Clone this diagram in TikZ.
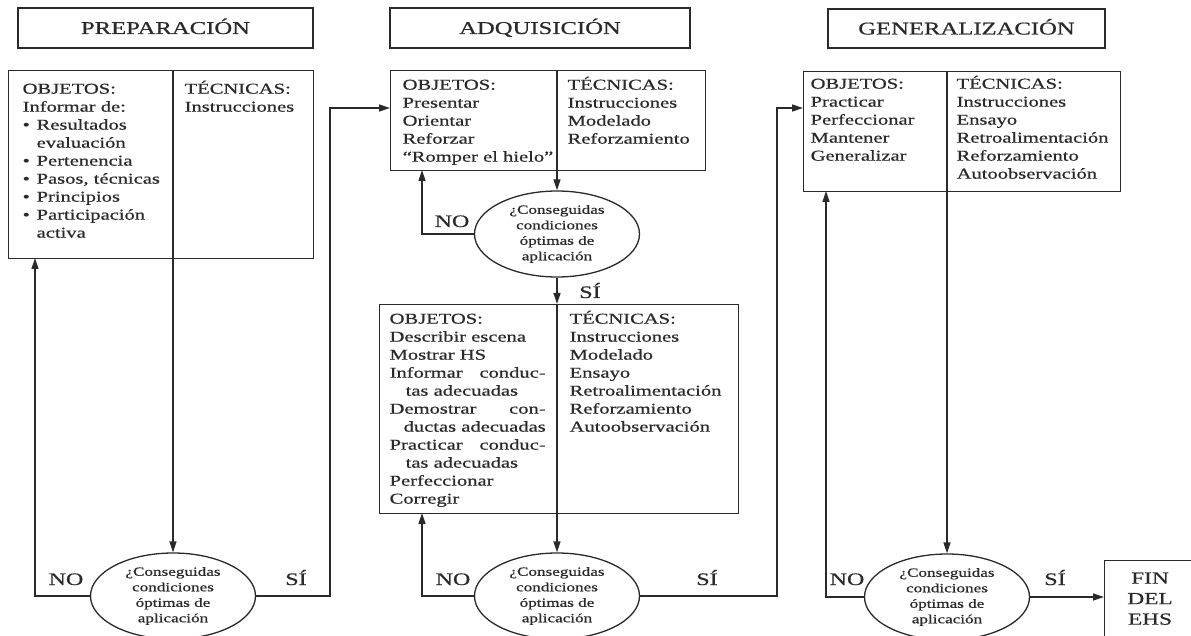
\documentclass[tikz,border=0pt]{standalone}
\usepackage{fontspec}
\setmainfont{Liberation Serif}[FakeStretch=1.37,FakeBold=0.7]
\usetikzlibrary{arrows.meta,shapes.geometric}
\definecolor{ink}{HTML}{2A2A2A}
\newcommand\firststrut{\rule{0pt}{14pt}}
\newcommand\bul{\makebox[14pt][l]{•}}
\newcommand\hang{\hspace*{14pt}}
\begin{document}
\begin{tikzpicture}[x=1pt,y=-1pt,line width=1.3pt,color=ink,
  hdr/.style={draw,rectangle,inner sep=0pt,font=\fontsize{18}{20}\selectfont,text height=12pt,text depth=0pt},
  box/.style={draw,rectangle,anchor=north west,inner sep=0pt},
  col/.style={anchor=north west,inner sep=0pt,align=left,font=\fontsize{15}{18}\selectfont},
  ell/.style={draw,ellipse,inner sep=0pt,minimum width=165pt,minimum height=86pt,fill=white},
  etx/.style={align=center,inner sep=0pt,font=\fontsize{12.5}{15.5}\selectfont},
  lab/.style={anchor=base,inner sep=0pt,font=\fontsize{17.5}{20}\selectfont},
  arr/.style={-{Triangle[length=11pt,width=7pt]}}]
\useasboundingbox (0,0) rectangle (1191,636);

% headers
\node[hdr,minimum width=295pt,minimum height=40pt] (hPrep) at (165.5,28) {PREPARACIÓN};
\node[hdr,minimum width=300pt,minimum height=40pt] (hAdq) at (540,28) {ADQUISICIÓN};
\node[hdr,minimum width=277pt,minimum height=39pt] (hGen) at (966.5,28.5) {GENERALIZACIÓN};

% boxes
\node[box,minimum width=305pt,minimum height=188pt] (bPrep) at (8,70) {};
\node[box,minimum width=315pt,minimum height=100pt] (bAdq1) at (390,70) {};
\node[box,minimum width=359pt,minimum height=209pt] (bAdq2) at (379,304) {};
\node[box,minimum width=317pt,minimum height=120pt] (bGen) at (803,71) {};
\node[box,minimum width=100pt,minimum height=90pt] (fin) at (1104,560) {};

% box texts
\node[col] (tPrepO) at (22,79) {\firststrut OBJETOS:\\Informar de:\\\bul Resultados\\\hang evaluación\\\bul Pertenencia\\\bul Pasos, técnicas\\\bul Principios\\\bul Participación\\\hang activa};
\node[col] (tPrepT) at (184,79) {\firststrut TÉCNICAS:\\Instrucciones};

\node[col] (tA1O) at (402,75) {\firststrut OBJETOS:\\Presentar\\Orientar\\Reforzar\\“Romper el hielo”};
\node[col] (tA1T) at (567,75) {\firststrut TÉCNICAS:\\Instrucciones\\Modelado\\Reforzamiento};

\node[col] (tA2O) at (389,309) {\firststrut OBJETOS:\\Describir escena\\Mostrar HS\\\makebox[156pt][l]{Informar\hfill conduc-}\\\hspace*{16pt}tas adecuadas\\\makebox[156pt][l]{Demostrar\hfill con-}\\\hspace*{14pt}ductas adecuadas\\\makebox[156pt][l]{Practicar\hfill conduc-}\\\hspace*{16pt}tas adecuadas\\Perfeccionar\\Corregir};
\node[col] (tA2T) at (569,309) {\firststrut TÉCNICAS:\\Instrucciones\\Modelado\\Ensayo\\Retroalimentación\\Reforzamiento\\Autoobservación};

\node[col] (tGO) at (810,74) {\firststrut OBJETOS:\\Practicar\\Perfeccionar\\Mantener\\Generalizar};
\node[col] (tGT) at (956,74) {\firststrut TÉCNICAS:\\Instrucciones\\Ensayo\\Retroalimentación\\Reforzamiento\\Autoobservación};

\node[anchor=north,align=center,inner sep=0pt,font=\fontsize{17}{20.5}\selectfont] (finT) at (1150,569) {\firststrut FIN\\DEL\\EHS};

% ellipses
\node[ell] (ePrep) at (173,596) {};
\node[ell] (eAdq1) at (557,234) {};
\node[ell] (eAdq2) at (557,596) {};
\node[ell] (eGen) at (947,597) {};
\foreach \e in {ePrep,eAdq1,eAdq2,eGen}
  \node[etx] (\e t) at (\e.center) {¿Conseguidas\\condiciones\\óptimas de\\aplicación};

% connector points
\coordinate (dP) at (173,70);
\coordinate (dA1) at (557,70);
\coordinate (dA2) at (557,304);
\coordinate (dG) at (947,71);
\coordinate (pNOc) at (35,258);
\coordinate (pSIc) at (330,108);
\coordinate (a1NOc) at (422,170);
\coordinate (a2NOc) at (422,513);
\coordinate (a2SIc) at (777,108);
\coordinate (gNOc) at (826,191);

% connectors
\draw[arr] (dP) -- (ePrep.north);
\draw[arr] (ePrep.west) -| (pNOc);
\draw[arr] (ePrep.east) -| (pSIc) -- (pSIc -| bAdq1.west);
\draw[arr] (dA1) -- (eAdq1.north);
\draw[arr] (eAdq1.west) -| (a1NOc);
\draw[arr] (eAdq1.south) -- (dA2);
\draw[arr] (dA2) -- (eAdq2.north);
\draw[arr] (eAdq2.west) -| (a2NOc);
\draw[arr] (eAdq2.east) -| (a2SIc) -- (a2SIc -| bGen.west);
\draw[arr] (dG) -- (eGen.north);
\draw[arr] (eGen.west) -| (gNOc);
\draw[arr] (eGen.east) -- (eGen.east -| fin.west);

% labels
\node[lab] (lPN) at (66,585) {NO};
\node[lab] (lPS) at (296,585) {SÍ};
\node[lab] (lA1N) at (452,227) {NO};
\node[lab] (lA1S) at (590,298) {SÍ};
\node[lab] (lA2N) at (453,585) {NO};
\node[lab] (lA2S) at (707,585) {SÍ};
\node[lab] (lGN) at (847,585) {NO};
\node[lab] (lGS) at (1055,585) {SÍ};
\end{tikzpicture}
\end{document}
